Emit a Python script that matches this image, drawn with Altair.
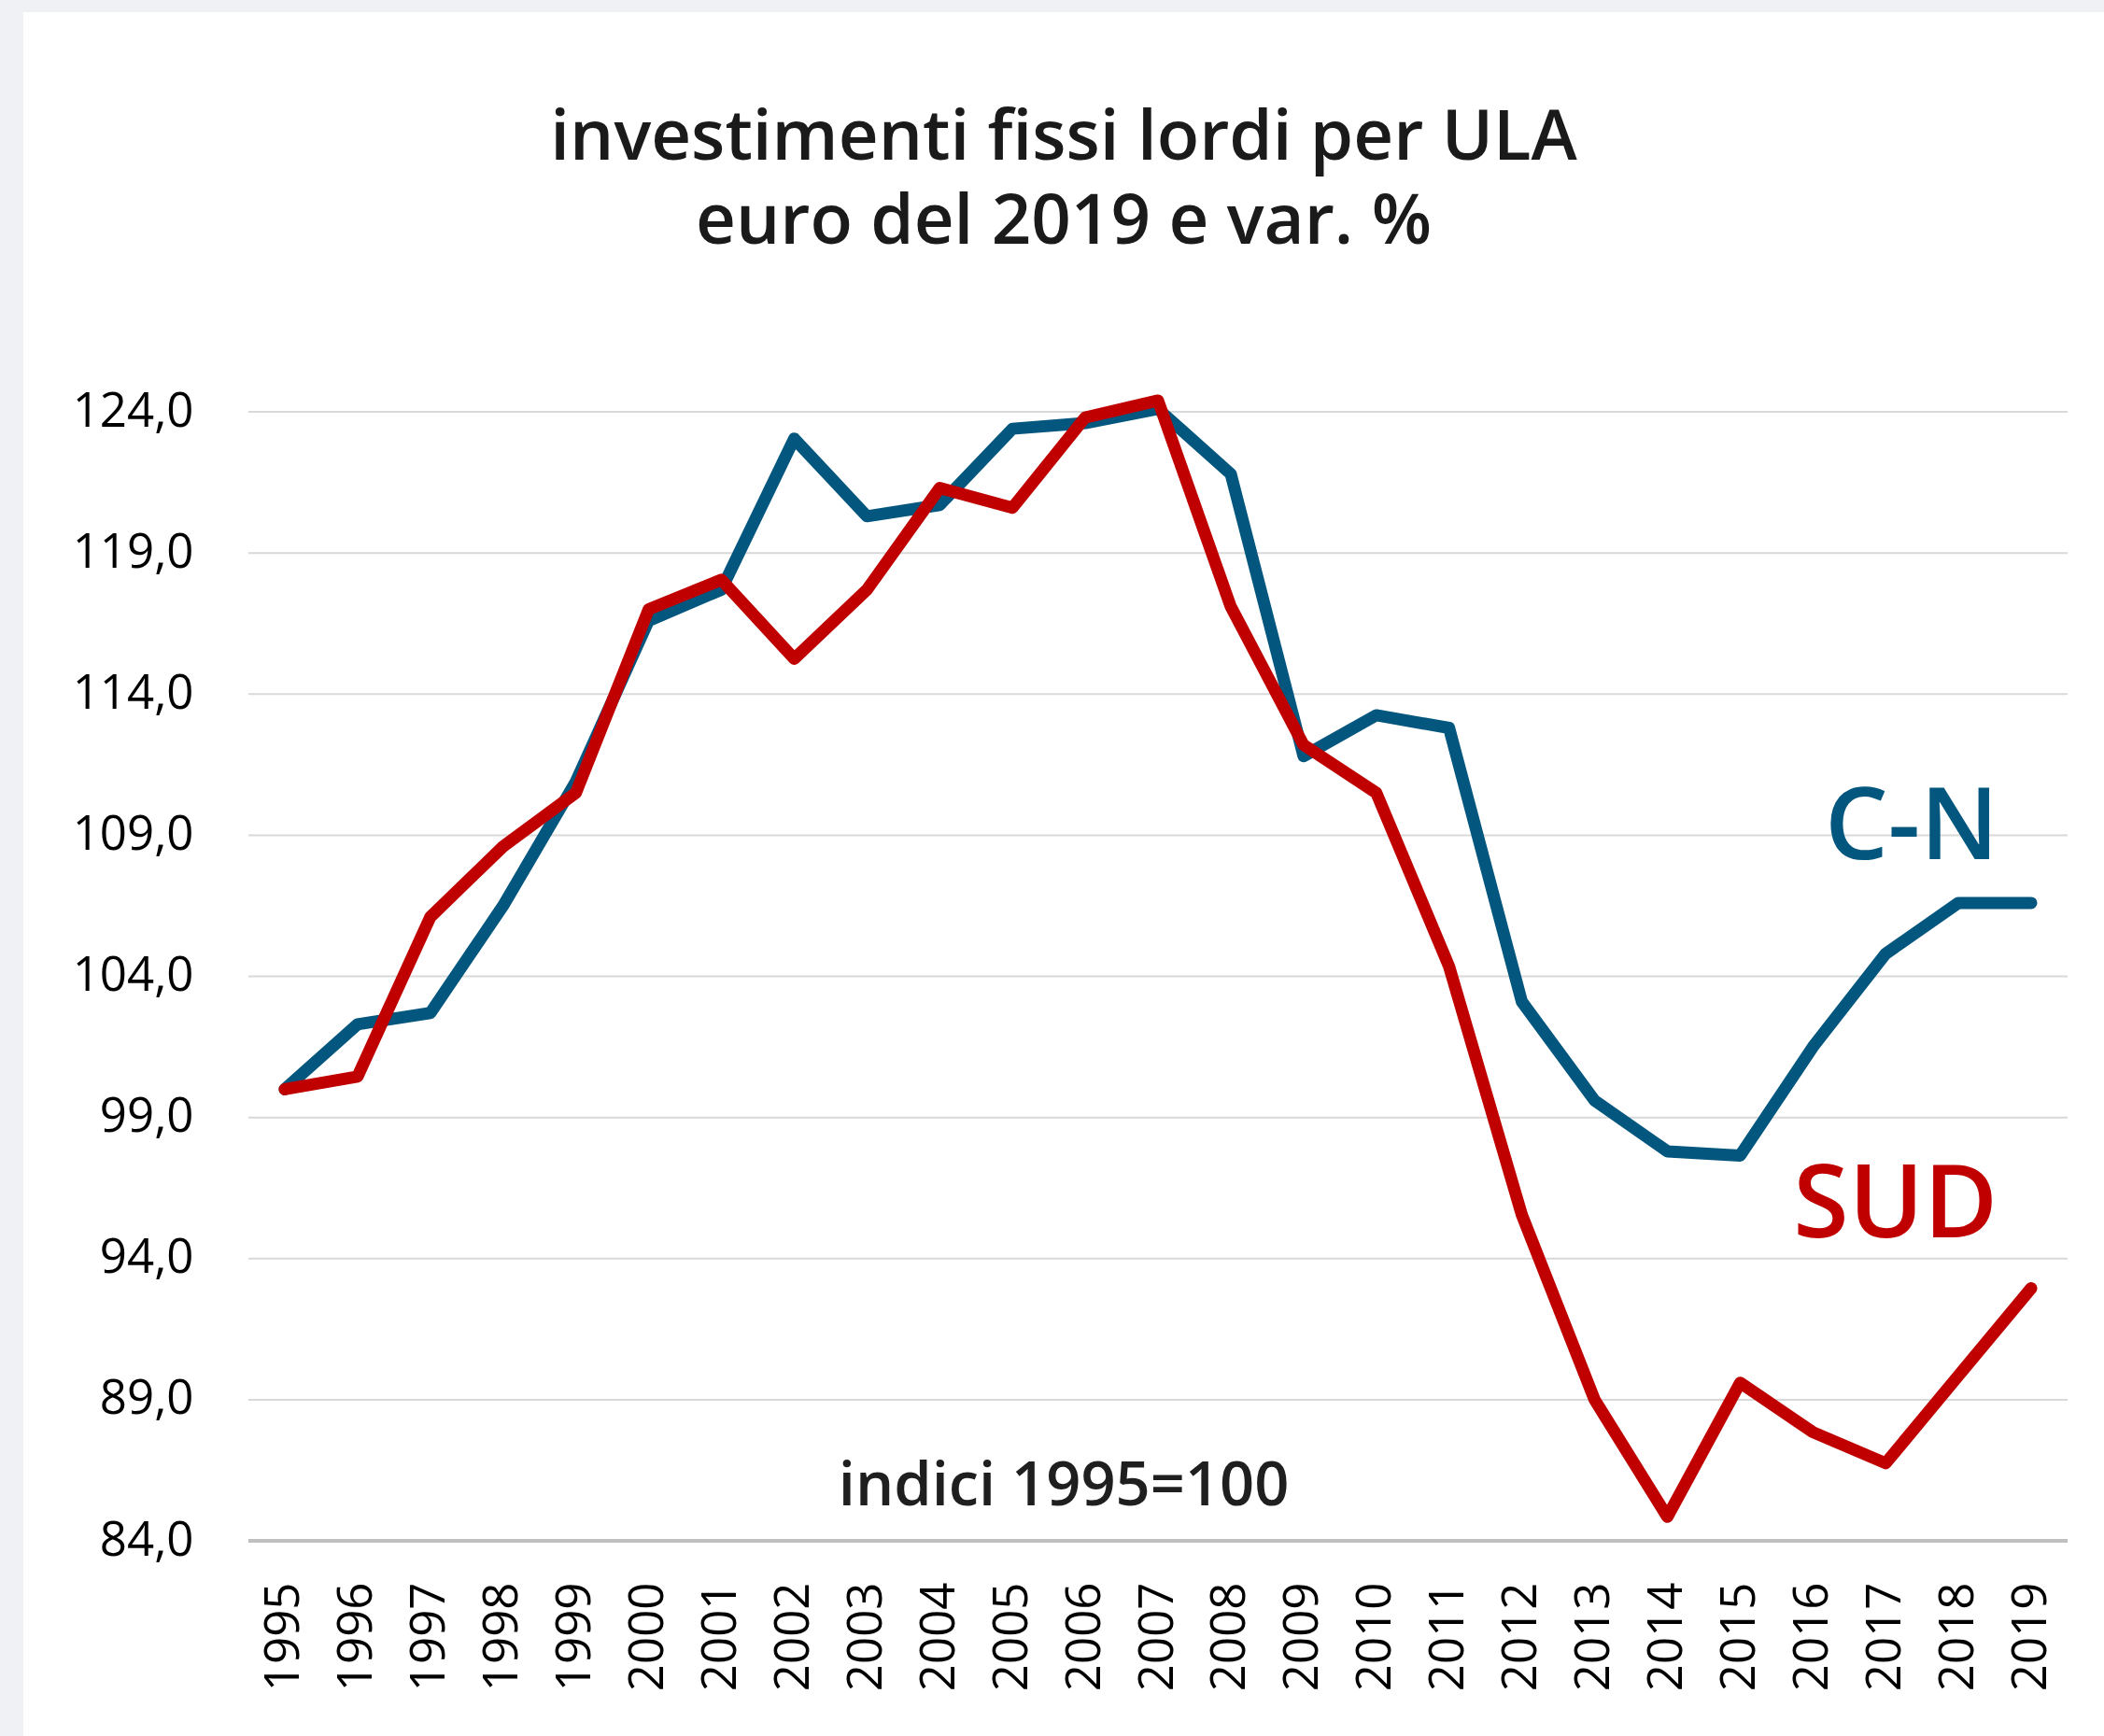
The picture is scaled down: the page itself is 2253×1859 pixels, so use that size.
import altair as alt
import pandas as pd

years = [str(y) for y in range(1995, 2020)]
cn = [100.0, 102.3, 102.7, 106.5, 110.9, 116.6, 117.7, 123.05, 120.3, 120.7, 123.4, 123.6, 124.1,
      121.8, 111.8, 113.25, 112.8, 103.1, 99.6, 97.8, 97.65, 101.5, 104.8, 106.6, 106.6]
sud = [100.0, 100.45, 106.1, 108.6, 110.5, 117.0, 118.05, 115.25, 117.7, 121.3, 120.6, 123.8, 124.4,
       117.1, 112.2, 110.5, 104.35, 95.55, 89.0, 84.85, 89.6, 87.85, 86.75, 89.85, 92.95]
y_ticks = [84, 89, 94, 99, 104, 109, 114, 119, 124]
grid_vals = [89, 94, 99, 104, 109, 114, 119, 124]
base_val = [84]

BLUE = "#03567E"
RED = "#C00000"
FONT = "Open Sans"

df = pd.DataFrame({"anno": years * 2, "val": cn + sud,
                   "serie": ["C-N"] * len(years) + ["SUD"] * len(years)})

x_enc = alt.X("anno:O", sort=years, scale=alt.Scale(domain=years),
              axis=alt.Axis(title=None, labelAngle=270, labelFontSize=51, labelFont=FONT,
                            labelColor="#000000", ticks=False, tickSize=0, domain=False,
                            grid=False, labelPadding=44, zindex=1))
y_scale = alt.Scale(domain=[84, 124], nice=False, zero=False)
y_enc = alt.Y("val:Q", scale=y_scale,
              axis=alt.Axis(title=None, values=y_ticks, labelFontSize=51, labelFont=FONT,
                            labelColor="#000000", ticks=False, tickSize=0, domain=False,
                            grid=False, labelPadding=59, zindex=1,
                            labelExpr="replace(format(datum.value, '.1f'), '.', ',')"))

panel = alt.Chart(pd.DataFrame({"k": [0]})).mark_rect(color="white").encode(
    x=alt.value(-241), x2=alt.value(2100), y=alt.value(-428), y2=alt.value(1500))

grid = alt.Chart(pd.DataFrame({"val": grid_vals})).mark_rule(
    color="#d9d9d9", strokeWidth=2).encode(y=alt.Y("val:Q", scale=y_scale))
base = alt.Chart(pd.DataFrame({"val": base_val})).mark_rule(
    color="#bfbfbf", strokeWidth=4).encode(y=alt.Y("val:Q", scale=y_scale))

line_cn = alt.Chart(df[df.serie == "C-N"]).mark_line(
    color=BLUE, strokeWidth=13, strokeCap="round", strokeJoin="round").encode(x=x_enc, y=y_enc)
line_sud = alt.Chart(df[df.serie == "SUD"]).mark_line(
    color=RED, strokeWidth=13, strokeCap="round", strokeJoin="round").encode(x=x_enc, y=y_enc)

lab_cn = alt.Chart(pd.DataFrame({"anno": ["2019"], "val": [108.15], "t": ["C-N"]})).mark_text(
    font=FONT, fontSize=107, fontWeight=600, color=BLUE, align="right", baseline="alphabetic",
    dx=-35).encode(x=alt.X("anno:O", sort=years), y=alt.Y("val:Q", scale=y_scale), text="t:N")
lab_sud = alt.Chart(pd.DataFrame({"anno": ["2019"], "val": [94.75], "t": ["SUD"]})).mark_text(
    font=FONT, fontSize=108, fontWeight=600, color=RED, align="right", baseline="alphabetic",
    dx=-36).encode(x=alt.X("anno:O", sort=years), y=alt.Y("val:Q", scale=y_scale), text="t:N")
lab_idx = alt.Chart(pd.DataFrame({"anno": ["2006"], "val": [85.26], "t": ["indici 1995=100"]})).mark_text(
    font=FONT, fontSize=65, fontWeight=600, color="#1f1f1f", align="center", baseline="alphabetic",
    dx=-23).encode(x=alt.X("anno:O", sort=years), y=alt.Y("val:Q", scale=y_scale), text="t:N")

chart = alt.layer(panel, grid, base, line_cn, line_sud, lab_cn, lab_sud, lab_idx).properties(
    width=1948, height=1209,
    title=alt.TitleParams(text=["investimenti fissi lordi per ULA", "euro del 2019 e var. %"],
                          font=FONT, fontSize=74.5, fontWeight=600, color="#1a1a1a",
                          lineHeight=90, anchor="middle", dx=-101, offset=0, dy=263, zindex=1),
    background="#eff1f5",
    padding={"left": 266, "top": 441, "right": 39, "bottom": 209},
    autosize=alt.AutoSizeParams(type="none"),
).configure_view(stroke=None)

chart.save("out.html", embed_options={"renderer": "svg", "actions": False})
